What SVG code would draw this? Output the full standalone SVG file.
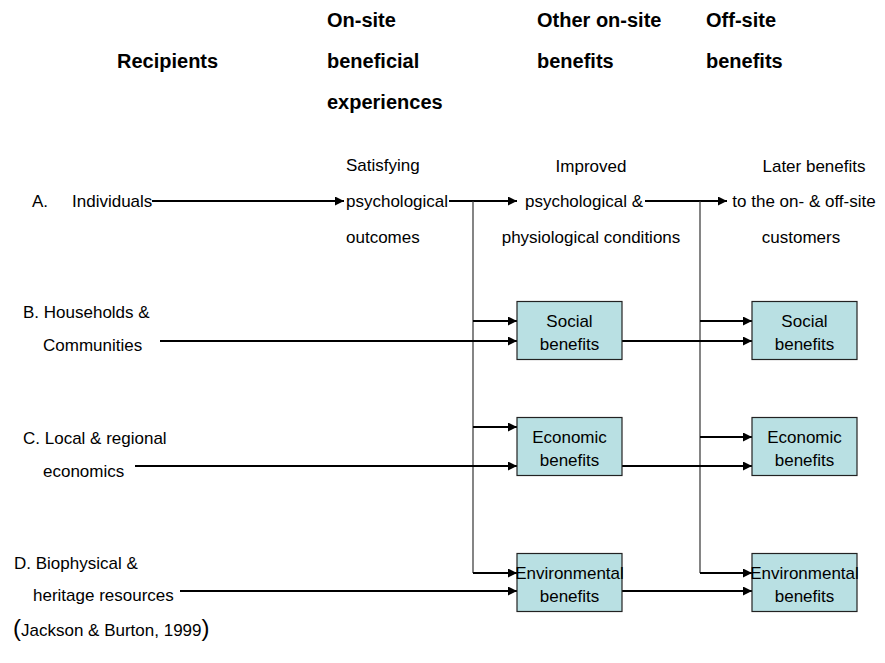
<svg xmlns="http://www.w3.org/2000/svg" width="885" height="663" viewBox="0 0 885 663">
<style>
  text { font-family: "Liberation Sans", Arial, sans-serif; fill: #000; }
  .h { font-size: 20px; font-weight: bold; }
  .t { font-size: 17px; }
  .c { text-anchor: middle; }
  .box { fill: #B9E0E3; stroke: #222; stroke-width: 1.2; }
  .ln { stroke: #000; stroke-width: 2; fill: none; }
  .vl { stroke: #333; stroke-width: 1.2; fill: none; }
</style>
<defs>
  <marker id="ah" viewBox="0 0 10 10" refX="10" refY="5" markerWidth="10" markerHeight="9" markerUnits="userSpaceOnUse" orient="auto">
    <path d="M0,0 L10,5 L0,10 z" fill="#000"/>
  </marker>
</defs>
<rect width="885" height="663" fill="#fff"/>

<g id="headers">
  <text class="h" x="117" y="68">Recipients</text>
  <text class="h" x="327" y="27">On-site</text>
  <text class="h" x="327" y="68">beneficial</text>
  <text class="h" x="327" y="109">experiences</text>
  <text class="h" x="537" y="27">Other on-site</text>
  <text class="h" x="537" y="68">benefits</text>
  <text class="h" x="706" y="27">Off-site</text>
  <text class="h" x="706" y="68">benefits</text>
</g>

<g id="connectors">
  <line class="ln" x1="152" y1="201" x2="344" y2="201" marker-end="url(#ah)"/>
  <line class="ln" x1="449" y1="201" x2="517" y2="201" marker-end="url(#ah)"/>
  <line class="ln" x1="645" y1="201" x2="727" y2="201" marker-end="url(#ah)"/>
  <line class="vl" x1="473" y1="201" x2="473" y2="573"/>
  <line class="vl" x1="700" y1="201" x2="700" y2="573"/>
  <line class="ln" x1="473" y1="321" x2="517" y2="321" marker-end="url(#ah)"/>
  <line class="ln" x1="160" y1="341" x2="517" y2="341" marker-end="url(#ah)"/>
  <line class="ln" x1="473" y1="427" x2="517" y2="427" marker-end="url(#ah)"/>
  <line class="ln" x1="135" y1="466" x2="517" y2="466" marker-end="url(#ah)"/>
  <line class="ln" x1="473" y1="573" x2="517" y2="573" marker-end="url(#ah)"/>
  <line class="ln" x1="180" y1="591" x2="517" y2="591" marker-end="url(#ah)"/>
  <line class="ln" x1="700" y1="321" x2="752" y2="321" marker-end="url(#ah)"/>
  <line class="ln" x1="622" y1="341" x2="752" y2="341" marker-end="url(#ah)"/>
  <line class="ln" x1="700" y1="437" x2="752" y2="437" marker-end="url(#ah)"/>
  <line class="ln" x1="622" y1="466" x2="752" y2="466" marker-end="url(#ah)"/>
  <line class="ln" x1="700" y1="573" x2="752" y2="573" marker-end="url(#ah)"/>
  <line class="ln" x1="622" y1="591" x2="752" y2="591" marker-end="url(#ah)"/>
</g>

<g id="recipient-a">
  <text class="t" x="32" y="207">A.</text>
  <text class="t" x="72" y="207">Individuals</text>
</g>
<g id="recipient-b">
  <text class="t" x="23" y="318">B. Households &amp;</text>
  <text class="t" x="43" y="351">Communities</text>
</g>
<g id="recipient-c">
  <text class="t" x="23" y="444">C. Local &amp; regional</text>
  <text class="t" x="43" y="477">economics</text>
</g>
<g id="recipient-d">
  <text class="t" x="14" y="569">D. Biophysical &amp;</text>
  <text class="t" x="33" y="601">heritage resources</text>
</g>

<g id="onsite-experiences">
  <text class="t" x="346" y="171">Satisfying</text>
  <text class="t" x="346" y="207">psychological</text>
  <text class="t" x="346" y="243">outcomes</text>
</g>
<g id="improved-conditions">
  <text class="t c" x="591" y="172">Improved</text>
  <text class="t c" x="584" y="207">psychological &amp;</text>
  <text class="t c" x="591" y="243">physiological conditions</text>
</g>
<g id="later-benefits">
  <text class="t c" x="814" y="172">Later benefits</text>
  <text class="t c" x="804" y="207">to the on- &amp; off-site</text>
  <text class="t c" x="801" y="243">customers</text>
</g>

<g id="social-onsite">
  <rect class="box" x="517" y="301.5" width="105" height="58"/>
  <text class="t c" x="569.5" y="327">Social</text>
  <text class="t c" x="569.5" y="350">benefits</text>
</g>
<g id="economic-onsite">
  <rect class="box" x="517" y="417.5" width="105" height="58"/>
  <text class="t c" x="569.5" y="443">Economic</text>
  <text class="t c" x="569.5" y="466">benefits</text>
</g>
<g id="environmental-onsite">
  <rect class="box" x="517" y="553.5" width="105" height="58"/>
  <text class="t c" x="569.5" y="579">Environmental</text>
  <text class="t c" x="569.5" y="602">benefits</text>
</g>
<g id="social-offsite">
  <rect class="box" x="752" y="301.5" width="105" height="58"/>
  <text class="t c" x="804.5" y="327">Social</text>
  <text class="t c" x="804.5" y="350">benefits</text>
</g>
<g id="economic-offsite">
  <rect class="box" x="752" y="417.5" width="105" height="58"/>
  <text class="t c" x="804.5" y="443">Economic</text>
  <text class="t c" x="804.5" y="466">benefits</text>
</g>
<g id="environmental-offsite">
  <rect class="box" x="752" y="553.5" width="105" height="58"/>
  <text class="t c" x="804.5" y="579">Environmental</text>
  <text class="t c" x="804.5" y="602">benefits</text>
</g>

<g id="citation">
  <text x="13" y="636"><tspan style="font-size:24px">(</tspan><tspan class="t">Jackson &amp; Burton, 1999</tspan><tspan style="font-size:24px">)</tspan></text>
</g>
</svg>
